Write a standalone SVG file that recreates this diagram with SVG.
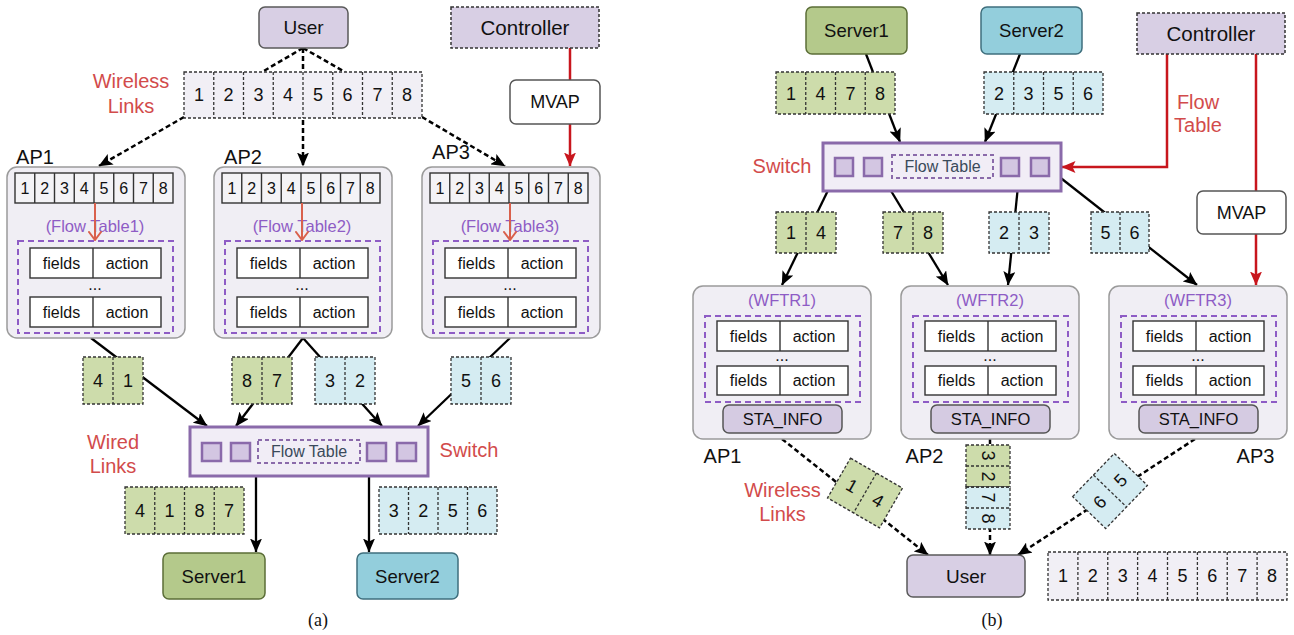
<svg xmlns="http://www.w3.org/2000/svg" width="1294" height="635" viewBox="0 0 1294 635">
  <defs>
    <style>
      text{font-family:"Liberation Sans",Arial,sans-serif;fill:#111;text-anchor:middle}
      .cap{font-family:"Liberation Serif","Times New Roman",serif;font-size:18px}
      .lav{fill:#d8cfe4;stroke:#5a5a5a;stroke-width:1.5}
      .lavd{fill:#d8cfe4;stroke:#333;stroke-width:1.5;stroke-dasharray:3 2}
      .white{fill:#fff;stroke:#555;stroke-width:1.5}
      .srv1{fill:#b4c98b;stroke:#5b6e37;stroke-width:1.5}
      .srv2{fill:#93cedc;stroke:#3f6f7d;stroke-width:1.5}
      .pg{fill:#f1eff5;stroke:#333;stroke-width:1.3;stroke-dasharray:3 2}
      .pgr{fill:#cddcab;stroke:#333;stroke-width:1.3;stroke-dasharray:3 2}
      .pbl{fill:#d5ecf2;stroke:#333;stroke-width:1.3;stroke-dasharray:3 2}
      .sep{stroke:#333;stroke-width:1.3;stroke-dasharray:3 2}
      .ap{fill:#f0eef4;stroke:#9a9a9a;stroke-width:1.5}
      .row{fill:#f4f3f6;stroke:#333;stroke-width:1.4}
      .rsep{stroke:#333;stroke-width:1.4}
      .tbl{fill:#fff;stroke:#333;stroke-width:1.4}
      .ft{fill:none;stroke:#8e5cc5;stroke-width:2;stroke-dasharray:6 4}
      .ptxt{fill:#8e5cc5;font-size:16.5px}
      .sw{fill:#f1edf6;stroke:#8a6aaa;stroke-width:3}
      .port{fill:#d3c6e2;stroke:#8a6aaa;stroke-width:2.5}
      .swft{fill:none;stroke:#8a6aaa;stroke-width:2;stroke-dasharray:4 3}
      .sta{fill:#d5cbe2;stroke:#555;stroke-width:1.5}
      .red{fill:#d24b4b;font-size:20px}
      .n18{font-size:18px}
      .n15{font-size:16px}
      .n16{font-size:16px}
      .solid{stroke:#000;stroke-width:2.3;fill:none}
      .dash{stroke:#000;stroke-width:2.5;fill:none;stroke-dasharray:5 3}
      .rline{stroke:#c8161d;stroke-width:2.5;fill:none}
      .inarrow{stroke:#d9604c;stroke-width:2;fill:none}
    </style>
    <marker id="arr" viewBox="0 0 14 12" refX="13.5" refY="6" markerWidth="14" markerHeight="12" markerUnits="userSpaceOnUse" orient="auto">
      <path d="M0,0 L14,6 L0,12 L3,6 z" fill="#000"/>
    </marker>
    <marker id="rarr" viewBox="0 0 14 12" refX="13.5" refY="6" markerWidth="14" markerHeight="12" markerUnits="userSpaceOnUse" orient="auto">
      <path d="M0,0 L14,6 L0,12 L3,6 z" fill="#c8161d"/>
    </marker>
    <marker id="chev" viewBox="0 0 10 14" refX="9" refY="7" markerWidth="10" markerHeight="14" markerUnits="userSpaceOnUse" orient="auto">
      <path d="M1,1 L9,7 L1,13" fill="none" stroke="#d9604c" stroke-width="2" stroke-linecap="round"/>
    </marker>
  </defs>

  <!-- ===================== panel (a) ===================== -->
  <g id="connectors-a">
    <path class="dash" d="M303,48 L262,72"/>
    <path class="dash" d="M303,48 L345,72"/>
    <path class="dash" d="M303,48 L303,166" marker-end="url(#arr)"/>
    <path class="dash" d="M184,117 L99,166" marker-end="url(#arr)"/>
    <path class="dash" d="M422,117 L505,166" marker-end="url(#arr)"/>
    <path class="rline" d="M570,48 L570,80"/>
    <path class="rline" d="M570,124 L570,166" marker-end="url(#rarr)"/>
    <path class="solid" d="M91,338 L207,426" marker-end="url(#arr)"/>
    <path class="solid" d="M303,338 L236,426" marker-end="url(#arr)"/>
    <path class="solid" d="M303,338 L382,426" marker-end="url(#arr)"/>
    <path class="solid" d="M510,338 L418,426" marker-end="url(#arr)"/>
    <path class="solid" d="M256,476 L256,552" marker-end="url(#arr)"/>
    <path class="solid" d="M369,476 L369,552" marker-end="url(#arr)"/>
  </g>

  <g id="user-a">
    <rect class="lav" x="259" y="7" width="89" height="41" rx="6"/>
    <text x="303.5" y="34" font-size="19">User</text>
  </g>
  <g id="controller-a">
    <rect class="lavd" x="451" y="7" width="148" height="41"/>
    <text x="525" y="35" font-size="20.5">Controller</text>
  </g>
  <g id="mvap-a">
    <rect class="white" x="510" y="80" width="90" height="44" rx="6"/>
    <text x="555" y="108" font-size="18">MVAP</text>
  </g>

  <text class="red" x="131" y="88">Wireless</text>
  <text class="red" x="131" y="113">Links</text>

  <g id="wireless-packets-a">
    <rect class="pg" x="184" y="72" width="238" height="46"/>
    <path class="sep" d="M213.75,72V118M243.5,72V118M273.25,72V118M303,72V118M332.75,72V118M362.5,72V118M392.25,72V118"/>
    <g class="n18">
      <text x="198.9" y="101">1</text><text x="228.6" y="101">2</text><text x="258.4" y="101">3</text><text x="288.1" y="101">4</text>
      <text x="317.9" y="101">5</text><text x="347.6" y="101">6</text><text x="377.4" y="101">7</text><text x="407.1" y="101">8</text>
    </g>
  </g>

  <text x="35" y="164" font-size="20">AP1</text>
  <text x="243" y="164" font-size="20">AP2</text>
  <text x="451" y="159" font-size="20">AP3</text>

  <g id="ap1-a" transform="translate(7,0)">
    <rect class="ap" x="0" y="167" width="178" height="171" rx="10"/>
    <rect class="row" x="8" y="173" width="158" height="30"/>
    <path class="rsep" d="M27.75,173V203M47.5,173V203M67.25,173V203M87,173V203M106.75,173V203M126.5,173V203M146.25,173V203"/>
    <g class="n15">
      <text x="17.9" y="194">1</text><text x="37.6" y="194">2</text><text x="57.4" y="194">3</text><text x="77.1" y="194">4</text>
      <text x="96.9" y="194">5</text><text x="116.6" y="194">6</text><text x="136.4" y="194">7</text><text x="156.1" y="194">8</text>
    </g>
    <text class="ptxt" x="88" y="232">(Flow Table1)</text>
    <rect class="ft" x="11" y="241" width="155" height="92"/>
    <rect class="tbl" x="23" y="248" width="131" height="30"/><path class="rsep" d="M86,248V278"/>
    <rect class="tbl" x="23" y="297" width="131" height="30"/><path class="rsep" d="M86,297V327"/>
    <g class="n16">
      <text x="54.5" y="268.5">fields</text><text x="120" y="268.5">action</text>
      <text x="88" y="290">...</text>
      <text x="54.5" y="317.5">fields</text><text x="120" y="317.5">action</text>
    </g>
    <path class="inarrow" d="M88,203 L88,240" marker-end="url(#chev)"/>
  </g>

  <g id="ap2-a" transform="translate(214,0)">
    <rect class="ap" x="0" y="167" width="178" height="171" rx="10"/>
    <rect class="row" x="8" y="173" width="158" height="30"/>
    <path class="rsep" d="M27.75,173V203M47.5,173V203M67.25,173V203M87,173V203M106.75,173V203M126.5,173V203M146.25,173V203"/>
    <g class="n15">
      <text x="17.9" y="194">1</text><text x="37.6" y="194">2</text><text x="57.4" y="194">3</text><text x="77.1" y="194">4</text>
      <text x="96.9" y="194">5</text><text x="116.6" y="194">6</text><text x="136.4" y="194">7</text><text x="156.1" y="194">8</text>
    </g>
    <text class="ptxt" x="88" y="232">(Flow Table2)</text>
    <rect class="ft" x="11" y="241" width="155" height="92"/>
    <rect class="tbl" x="23" y="248" width="131" height="30"/><path class="rsep" d="M86,248V278"/>
    <rect class="tbl" x="23" y="297" width="131" height="30"/><path class="rsep" d="M86,297V327"/>
    <g class="n16">
      <text x="54.5" y="268.5">fields</text><text x="120" y="268.5">action</text>
      <text x="88" y="290">...</text>
      <text x="54.5" y="317.5">fields</text><text x="120" y="317.5">action</text>
    </g>
    <path class="inarrow" d="M88,203 L88,240" marker-end="url(#chev)"/>
  </g>

  <g id="ap3-a" transform="translate(422,0)">
    <rect class="ap" x="0" y="167" width="178" height="171" rx="10"/>
    <rect class="row" x="8" y="173" width="158" height="30"/>
    <path class="rsep" d="M27.75,173V203M47.5,173V203M67.25,173V203M87,173V203M106.75,173V203M126.5,173V203M146.25,173V203"/>
    <g class="n15">
      <text x="17.9" y="194">1</text><text x="37.6" y="194">2</text><text x="57.4" y="194">3</text><text x="77.1" y="194">4</text>
      <text x="96.9" y="194">5</text><text x="116.6" y="194">6</text><text x="136.4" y="194">7</text><text x="156.1" y="194">8</text>
    </g>
    <text class="ptxt" x="88" y="232">(Flow Table3)</text>
    <rect class="ft" x="11" y="241" width="155" height="92"/>
    <rect class="tbl" x="23" y="248" width="131" height="30"/><path class="rsep" d="M86,248V278"/>
    <rect class="tbl" x="23" y="297" width="131" height="30"/><path class="rsep" d="M86,297V327"/>
    <g class="n16">
      <text x="54.5" y="268.5">fields</text><text x="120" y="268.5">action</text>
      <text x="88" y="290">...</text>
      <text x="54.5" y="317.5">fields</text><text x="120" y="317.5">action</text>
    </g>
    <path class="inarrow" d="M88,203 L88,240" marker-end="url(#chev)"/>
  </g>

  <!-- wired packets -->
  <g id="pkt-41-a">
    <rect class="pgr" x="83" y="357" width="60" height="47"/><path class="sep" d="M113,357V404"/>
    <g class="n18"><text x="98" y="387">4</text><text x="128" y="387">1</text></g>
  </g>
  <g id="pkt-87-a">
    <rect class="pgr" x="232" y="357" width="60" height="47"/><path class="sep" d="M262,357V404"/>
    <g class="n18"><text x="247" y="387">8</text><text x="277" y="387">7</text></g>
  </g>
  <g id="pkt-32-a">
    <rect class="pbl" x="315" y="357" width="60" height="47"/><path class="sep" d="M345,357V404"/>
    <g class="n18"><text x="330" y="387">3</text><text x="360" y="387">2</text></g>
  </g>
  <g id="pkt-56-a">
    <rect class="pbl" x="451" y="357" width="60" height="47"/><path class="sep" d="M481,357V404"/>
    <g class="n18"><text x="466" y="387">5</text><text x="496" y="387">6</text></g>
  </g>

  <text class="red" x="113" y="449">Wired</text>
  <text class="red" x="113" y="473">Links</text>

  <g id="switch-a">
    <rect class="sw" x="190" y="427" width="238" height="49"/>
    <rect class="port" x="202" y="443" width="19" height="18"/>
    <rect class="port" x="231" y="443" width="19" height="18"/>
    <rect class="swft" x="258" y="440" width="102" height="23"/>
    <text x="309" y="457" font-size="16" style="fill:#3a4a5a">Flow Table</text>
    <rect class="port" x="367" y="443" width="19" height="18"/>
    <rect class="port" x="397" y="443" width="19" height="18"/>
  </g>
  <text class="red" x="469" y="457" font-size="20.5">Switch</text>

  <g id="pkt-4187-a">
    <rect class="pgr" x="125" y="487" width="119" height="47"/>
    <path class="sep" d="M154.75,487V534M184.5,487V534M214.25,487V534"/>
    <g class="n18"><text x="139.9" y="517">4</text><text x="169.6" y="517">1</text><text x="199.4" y="517">8</text><text x="229.1" y="517">7</text></g>
  </g>
  <g id="pkt-3256-a">
    <rect class="pbl" x="379" y="487" width="118" height="47"/>
    <path class="sep" d="M408.5,487V534M438,487V534M467.5,487V534"/>
    <g class="n18"><text x="393.8" y="517">3</text><text x="423.3" y="517">2</text><text x="452.8" y="517">5</text><text x="482.3" y="517">6</text></g>
  </g>

  <g id="server1-a">
    <rect class="srv1" x="163" y="553" width="102" height="46" rx="6"/>
    <text x="214" y="583" font-size="18.5">Server1</text>
  </g>
  <g id="server2-a">
    <rect class="srv2" x="357" y="553" width="101" height="46" rx="6"/>
    <text x="407.5" y="583" font-size="18.5">Server2</text>
  </g>

  <text class="cap" x="318" y="626">(a)</text>

  <!-- ===================== panel (b) ===================== -->
  <g id="connectors-b">
    <path class="solid" d="M866,54 L900,142" marker-end="url(#arr)"/>
    <path class="solid" d="M1020,54 L985,142" marker-end="url(#arr)"/>
    <path class="rline" d="M1167,54 L1167,167 L1062,167" marker-end="url(#rarr)"/>
    <path class="rline" d="M1256,54 L1256,191"/>
    <path class="rline" d="M1256,234 L1256,285" marker-end="url(#rarr)"/>
    <path class="solid" d="M835,176 L782,285" marker-end="url(#arr)"/>
    <path class="solid" d="M882,176 L948,285" marker-end="url(#arr)"/>
    <path class="solid" d="M1019,176 L1008,285" marker-end="url(#arr)"/>
    <path class="solid" d="M1048,168 L1197,285" marker-end="url(#arr)"/>
    <path class="dash" d="M782,439 L928,555" marker-end="url(#arr)"/>
    <path class="dash" d="M990,439 L990,555" marker-end="url(#arr)"/>
    <path class="dash" d="M1195,439 L1018,555" marker-end="url(#arr)"/>
  </g>

  <g id="server1-b">
    <rect class="srv1" x="806" y="7" width="101" height="47" rx="6"/>
    <text x="856.5" y="37" font-size="18.5">Server1</text>
  </g>
  <g id="server2-b">
    <rect class="srv2" x="981" y="7" width="101" height="47" rx="6"/>
    <text x="1031.5" y="37" font-size="18.5">Server2</text>
  </g>
  <g id="controller-b">
    <rect class="lavd" x="1137" y="13" width="148" height="41"/>
    <text x="1211" y="41" font-size="20.5">Controller</text>
  </g>
  <g id="mvap-b">
    <rect class="white" x="1197" y="191" width="89" height="43" rx="6"/>
    <text x="1241.5" y="219" font-size="18">MVAP</text>
  </g>
  <text class="red" x="1198" y="109">Flow</text>
  <text class="red" x="1198" y="132">Table</text>

  <g id="pkt-1478-b">
    <rect class="pgr" x="776" y="72" width="119" height="42"/>
    <path class="sep" d="M805.75,72V114M835.5,72V114M865.25,72V114"/>
    <g class="n18"><text x="790.9" y="99.5">1</text><text x="820.6" y="99.5">4</text><text x="850.4" y="99.5">7</text><text x="880.1" y="99.5">8</text></g>
  </g>
  <g id="pkt-2356-b">
    <rect class="pbl" x="984" y="72" width="119" height="42"/>
    <path class="sep" d="M1013.75,72V114M1043.5,72V114M1073.25,72V114"/>
    <g class="n18"><text x="998.9" y="99.5">2</text><text x="1028.6" y="99.5">3</text><text x="1058.4" y="99.5">5</text><text x="1088.1" y="99.5">6</text></g>
  </g>

  <text class="red" x="782" y="173" font-size="20.5">Switch</text>
  <g id="switch-b">
    <rect class="sw" x="823" y="143" width="238" height="48"/>
    <rect class="port" x="835" y="158" width="18" height="18"/>
    <rect class="port" x="864" y="158" width="18" height="18"/>
    <rect class="swft" x="892" y="155" width="101" height="23"/>
    <text x="942.5" y="172" font-size="16" style="fill:#3a4a5a">Flow Table</text>
    <rect class="port" x="1001" y="158" width="18" height="18"/>
    <rect class="port" x="1031" y="158" width="18" height="18"/>
  </g>

  <g id="pkt-14-b">
    <rect class="pgr" x="776" y="212" width="60" height="41"/><path class="sep" d="M806,212V253"/>
    <g class="n18"><text x="791" y="239">1</text><text x="821" y="239">4</text></g>
  </g>
  <g id="pkt-78-b">
    <rect class="pgr" x="883" y="212" width="60" height="41"/><path class="sep" d="M913,212V253"/>
    <g class="n18"><text x="898" y="239">7</text><text x="928" y="239">8</text></g>
  </g>
  <g id="pkt-23-b">
    <rect class="pbl" x="989" y="212" width="60" height="41"/><path class="sep" d="M1019,212V253"/>
    <g class="n18"><text x="1004" y="239">2</text><text x="1034" y="239">3</text></g>
  </g>
  <g id="pkt-56-b">
    <rect class="pbl" x="1091" y="212" width="58" height="41"/><path class="sep" d="M1120,212V253"/>
    <g class="n18"><text x="1105.5" y="239">5</text><text x="1134.5" y="239">6</text></g>
  </g>

  <g id="ap1-b" transform="translate(693,0)">
    <rect class="ap" x="0" y="286" width="178" height="153" rx="10"/>
    <text class="ptxt" x="89" y="306">(WFTR1)</text>
    <rect class="ft" x="12" y="316" width="155" height="86"/>
    <rect class="tbl" x="24" y="321" width="131" height="30"/><path class="rsep" d="M87,321V351"/>
    <rect class="tbl" x="24" y="366" width="131" height="29"/><path class="rsep" d="M87,366V395"/>
    <g class="n16">
      <text x="55.5" y="341.5">fields</text><text x="121" y="341.5">action</text>
      <text x="89" y="361">...</text>
      <text x="55.5" y="386">fields</text><text x="121" y="386">action</text>
    </g>
    <rect class="sta" x="30" y="405" width="119" height="28" rx="6"/>
    <text x="89.5" y="425" font-size="16.5">STA_INFO</text>
  </g>
  <g id="ap2-b" transform="translate(901,0)">
    <rect class="ap" x="0" y="286" width="178" height="153" rx="10"/>
    <text class="ptxt" x="89" y="306">(WFTR2)</text>
    <rect class="ft" x="12" y="316" width="155" height="86"/>
    <rect class="tbl" x="24" y="321" width="131" height="30"/><path class="rsep" d="M87,321V351"/>
    <rect class="tbl" x="24" y="366" width="131" height="29"/><path class="rsep" d="M87,366V395"/>
    <g class="n16">
      <text x="55.5" y="341.5">fields</text><text x="121" y="341.5">action</text>
      <text x="89" y="361">...</text>
      <text x="55.5" y="386">fields</text><text x="121" y="386">action</text>
    </g>
    <rect class="sta" x="30" y="405" width="119" height="28" rx="6"/>
    <text x="89.5" y="425" font-size="16.5">STA_INFO</text>
  </g>
  <g id="ap3-b" transform="translate(1109,0)">
    <rect class="ap" x="0" y="286" width="178" height="153" rx="10"/>
    <text class="ptxt" x="89" y="306">(WFTR3)</text>
    <rect class="ft" x="12" y="316" width="155" height="86"/>
    <rect class="tbl" x="24" y="321" width="131" height="30"/><path class="rsep" d="M87,321V351"/>
    <rect class="tbl" x="24" y="366" width="131" height="29"/><path class="rsep" d="M87,366V395"/>
    <g class="n16">
      <text x="55.5" y="341.5">fields</text><text x="121" y="341.5">action</text>
      <text x="89" y="361">...</text>
      <text x="55.5" y="386">fields</text><text x="121" y="386">action</text>
    </g>
    <rect class="sta" x="30" y="405" width="119" height="28" rx="6"/>
    <text x="89.5" y="425" font-size="16.5">STA_INFO</text>
  </g>

  <text x="722.5" y="463" font-size="20">AP1</text>
  <text x="924.5" y="463" font-size="20">AP2</text>
  <text x="1255.5" y="463" font-size="20">AP3</text>

  <text class="red" x="782.5" y="497">Wireless</text>
  <text class="red" x="782.5" y="521">Links</text>

  <!-- packets travelling on the wireless links -->
  <g id="pkt-14-air" transform="translate(865,493) rotate(30)">
    <rect class="pgr" x="-30" y="-23" width="60" height="46"/><path class="sep" d="M0,-23V23"/>
    <g class="n18"><text x="-15" y="6.5">1</text><text x="15" y="6.5">4</text></g>
  </g>
  <g id="pkt-3278-air">
    <rect class="pgr" x="966" y="445" width="44" height="42"/>
    <rect class="pbl" x="966" y="487" width="44" height="42"/>
    <path class="sep" d="M966,466H1010M966,487H1010M966,508H1010"/>
    <g class="n18">
      <text transform="translate(988,455.5) rotate(90)" y="6.5">3</text>
      <text transform="translate(988,476.5) rotate(90)" y="6.5">2</text>
      <text transform="translate(988,497.5) rotate(90)" y="6.5">7</text>
      <text transform="translate(988,518.5) rotate(90)" y="6.5">8</text>
    </g>
  </g>
  <g id="pkt-65-air" transform="translate(1110,491) rotate(-46)">
    <rect class="pbl" x="-30" y="-23" width="60" height="46"/><path class="sep" d="M0,-23V23"/>
    <g class="n18"><text x="-15" y="6.5">6</text><text x="15" y="6.5">5</text></g>
  </g>

  <g id="user-b">
    <rect class="lav" x="907" y="555" width="118" height="42" rx="6"/>
    <text x="966" y="583" font-size="19">User</text>
  </g>

  <g id="legend-b">
    <rect class="pg" x="1048" y="552" width="239" height="48"/>
    <path class="sep" d="M1077.9,552V600M1107.75,552V600M1137.6,552V600M1167.5,552V600M1197.4,552V600M1227.25,552V600M1257.1,552V600"/>
    <g class="n18">
      <text x="1062.9" y="582">1</text><text x="1092.8" y="582">2</text><text x="1122.7" y="582">3</text><text x="1152.6" y="582">4</text>
      <text x="1182.4" y="582">5</text><text x="1212.3" y="582">6</text><text x="1242.2" y="582">7</text><text x="1272.1" y="582">8</text>
    </g>
  </g>

  <text class="cap" x="992" y="626">(b)</text>
</svg>
